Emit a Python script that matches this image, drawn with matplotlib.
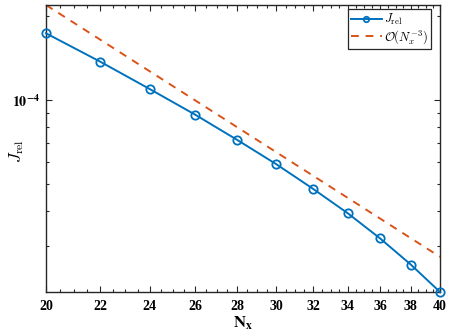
import math
import matplotlib
matplotlib.use("Agg")
import matplotlib.pyplot as plt
from matplotlib.ticker import MultipleLocator, FixedLocator, NullFormatter, FuncFormatter, LogLocator

N = [20, 22, 24, 26, 28, 30, 32, 34, 36, 38, 40]
J_rel = [1.734e-4, 1.372e-4, 1.095e-4, 8.86e-5, 7.19e-5, 5.88e-5,
         4.80e-5, 3.93e-5, 3.19e-5, 2.57e-5, 2.05e-5]
ref_N = [20, 40]
ref_vals = [2.19e-4, 2.74e-5]

x_ticks = [20, 22, 24, 26, 28, 30, 32, 34, 36, 38, 40]

plt.rcParams['font.family'] = ['Liberation Serif', 'DejaVu Serif']
plt.rcParams['font.weight'] = 'bold'
plt.rcParams['mathtext.fontset'] = 'stix'

blue = '#0072BD'
orange = '#D95319'

fig = plt.figure(figsize=(4.49, 3.36), dpi=100)
ax = fig.add_axes([46/449, 1-292/336, (440-46)/449, (292-5)/336])

ax.plot(N, J_rel, '-o', color=blue, lw=1.4, ms=6, mfc='none', mew=1.3,
        label=r'$J_{\rm rel}$', clip_on=False, zorder=3)
ax.plot(ref_N, ref_vals, '--', color=orange, lw=1.4, dashes=(4, 3.5),
        label=r'$\mathcal{O}(N_x^{-3})$')

ax.set_xscale('log')
ax.set_yscale('log')
ax.set_xlim(20, 40)
ax.set_ylim(J_rel[-1], ref_vals[0])

ax.xaxis.set_major_locator(FixedLocator(x_ticks))
ax.xaxis.set_minor_locator(MultipleLocator(0.5))
ax.xaxis.set_major_formatter(FuncFormatter(lambda v, p: f'{v:g}'))
ax.xaxis.set_minor_formatter(NullFormatter())

ax.yaxis.set_major_locator(LogLocator(base=10))
ax.yaxis.set_minor_locator(LogLocator(base=10, subs=range(2, 10)))
ax.yaxis.set_major_formatter(FuncFormatter(lambda v, p: r'$\mathbf{10^{%d}}$' % round(math.log10(v))))
ax.yaxis.set_minor_formatter(NullFormatter())

ax.tick_params(which='both', direction='in', top=True, right=True, width=0.8, colors='#262626')
ax.tick_params(which='major', length=4.5, labelsize=10, labelcolor='black')
ax.tick_params(axis='x', which='major', pad=6)
ax.tick_params(axis='y', which='major', pad=4)
ax.tick_params(which='minor', length=2.5)
for s in ax.spines.values():
    s.set_linewidth(1.0)
    s.set_color('#262626')

ax.set_xlabel(r'$\mathbf{N_x}$', fontsize=12, labelpad=1)
yl = ax.set_ylabel(r'$J_{\rm rel}$', fontsize=12)
yl.set_math_fontfamily('cm')
ax.yaxis.set_label_coords(-0.052, 0.49)

leg = ax.legend(loc='upper right', fontsize=9,
                bbox_to_anchor=(431/449, 1-9/336), bbox_transform=fig.transFigure,
                fancybox=False, edgecolor='#262626', framealpha=1,
                handlelength=2.5, borderaxespad=0.0, borderpad=0.25,
                labelspacing=0.05, handletextpad=0.15, markerscale=0.65)
leg.get_frame().set_linewidth(0.9)
for t in leg.get_texts():
    t.set_math_fontfamily('cm')

fig.savefig('out.png', dpi=100)
